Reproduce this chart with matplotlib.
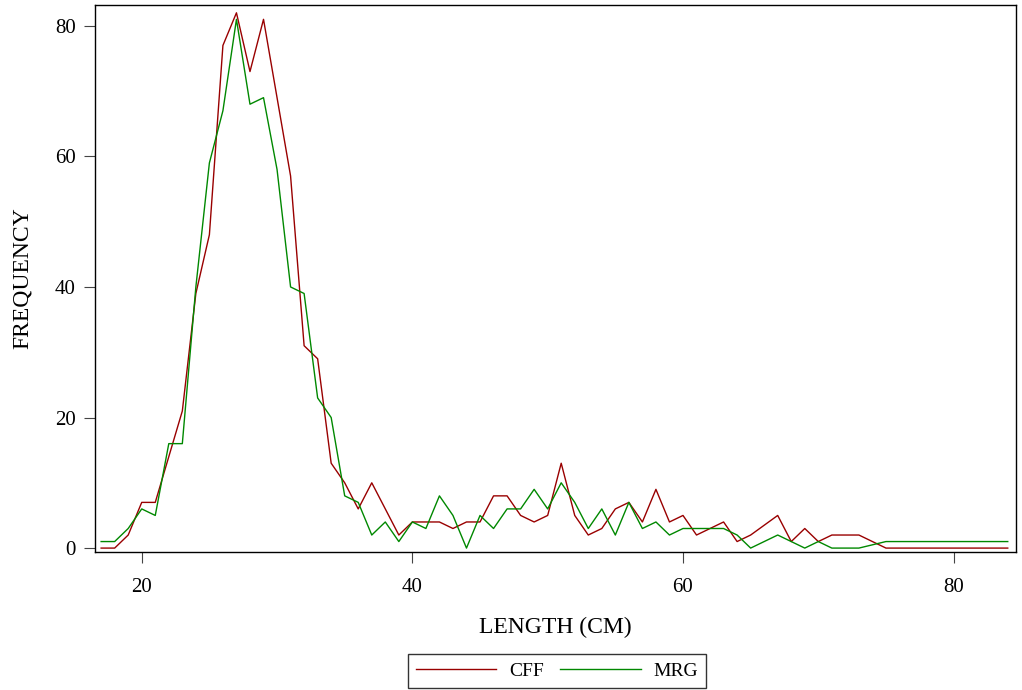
import numpy as np
import matplotlib
matplotlib.use("Agg")
import matplotlib.pyplot as plt

plt.rcParams["font.family"] = ["Liberation Serif", "DejaVu Serif"]

length = list(range(17, 85))

cff = [0, 0, 2, 7, 7, 14, 21, 39, 48, 77,
       82, 73, 81, 69, 57, 31, 29, 13, 10, 6,
       10, 6, 2, 4, 4, 4, 3, 4, 4, 8,
       8, 5, 4, 5, 13, 5, 2, 3, 6, 7,
       4, 9, 4, 5, 2, 3, 4, 1, 2, 3.5,
       5, 1, 3, 1, 2, 2, 2, 1, 0, 0,
       0, 0, 0, 0, 0, 0, 0, 0]

mrg = [1, 1, 3, 6, 5, 16, 16, 40, 59, 67,
       81, 68, 69, 58, 40, 39, 23, 20, 8, 7,
       2, 4, 1, 4, 3, 8, 5, 0, 5, 3,
       6, 6, 9, 6, 10, 7, 3, 6, 2, 7,
       3, 4, 2, 3, 3, 3, 3, 2, 0, 1,
       2, 1, 0, 1, 0, 0, 0, 0.5, 1, 1,
       1, 1, 1, 1, 1, 1, 1, 1]

x_ticks = [20, 40, 60, 80]
y_ticks = [0, 20, 40, 60, 80]

fig = plt.figure(figsize=(10.22, 6.9), dpi=100)
# plot box roughly 95..1016 px wide, 5..552 px tall
ax = fig.add_axes([0.093, 0.2, 0.901, 0.7928])

ax.plot(length, cff, color="#990000", lw=1.0, label="CFF")
ax.plot(length, mrg, color="#008800", lw=1.0, label="MRG")

ax.set_xlim(16.55, 84.6)
ax.set_ylim(-0.6, 83.2)
ax.set_xticks(x_ticks)
ax.set_yticks(y_ticks)
ax.tick_params(axis="both", direction="out", length=8, width=0.8,
               labelsize=15, color="#444444", pad=6)
ax.tick_params(axis="x", pad=11)
for s in ax.spines.values():
    s.set_linewidth(1.0)
    s.set_color("black")

ax.set_xlabel("LENGTH (CM)", fontsize=17, labelpad=14)
ax.set_ylabel("FREQUENCY", fontsize=17, labelpad=16)

leg = fig.legend(loc="center", bbox_to_anchor=(0.545, 0.0275), ncol=2,
                 fontsize=14, frameon=True, fancybox=False, handlelength=4.15,
                 columnspacing=0.85, borderpad=0.4, handletextpad=0.65,
                 borderaxespad=0)
leg.get_frame().set_edgecolor("black")
leg.get_frame().set_linewidth(1.0)

fig.savefig("out.png", dpi=100)
